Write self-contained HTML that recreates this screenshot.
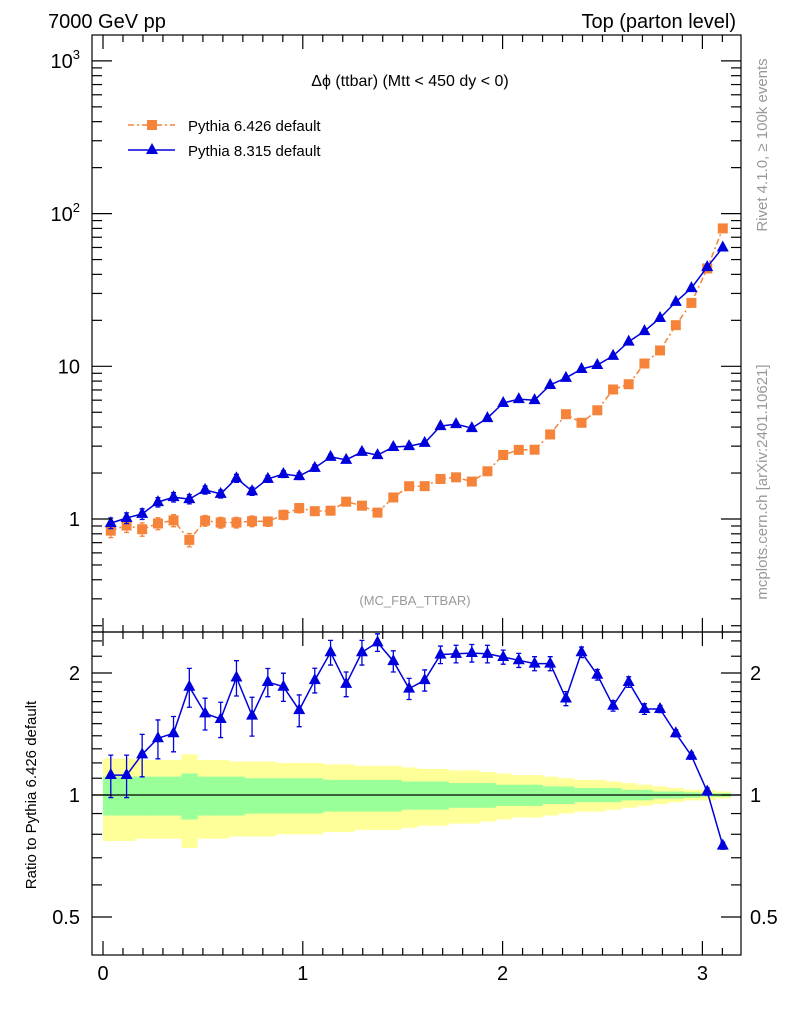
<!DOCTYPE html>
<html><head><meta charset="utf-8"><style>
body{margin:0;background:#fff;}
svg{display:block;font-family:"Liberation Sans",sans-serif;}
</style></head><body>
<svg id="c" width="786" height="1024" viewBox="0 0 786 1024" xmlns="http://www.w3.org/2000/svg">
<text x="48" y="28" font-size="20">7000 GeV pp</text>
<text x="736" y="28" font-size="20" text-anchor="end">Top (parton level)</text>
<text x="410" y="86" font-size="16" text-anchor="middle">Δϕ (ttbar) (Mtt &lt; 450 dy &lt; 0)</text>
<text x="415" y="605" font-size="13" fill="#999" text-anchor="middle">(MC_FBA_TTBAR)</text>
<text transform="translate(767,145) rotate(-90)" font-size="15" fill="#999" text-anchor="middle">Rivet 4.1.0, ≥ 100k events</text>
<text transform="translate(767,482) rotate(-90)" font-size="15" fill="#999" text-anchor="middle">mcplots.cern.ch [arXiv:2401.10621]</text>
<text transform="translate(36,795) rotate(-90)" font-size="15" text-anchor="middle">Ratio to Pythia 6.426 default</text>
<g>
<g>
<line x1="128" y1="125" x2="175" y2="125" stroke="#f5843a" stroke-width="1.5" stroke-dasharray="6,3,2,3"/>
<rect x="147" y="120" width="10" height="10" fill="#f5843a"/>
<text x="188" y="131" font-size="15">Pythia 6.426 default</text></g>
<g>
<line x1="128" y1="150" x2="175" y2="150" stroke="#0000dd" stroke-width="1.5"/>
<polygon points="152,143 158,154 146,154" fill="#0000dd"/>
<text x="188" y="156" font-size="15">Pythia 8.315 default</text></g>
</g>
<g id="main"></g>
<g id="ratio"></g>
<rect x="92" y="35" width="649" height="597" fill="none" stroke="#000" stroke-width="1.2"/>
<rect x="92" y="632" width="649" height="323" fill="none" stroke="#000" stroke-width="1.2"/>
</svg>
<script>
const binCenters=[0.039,0.118,0.196,0.275,0.353,0.432,0.511,0.589,0.668,0.746,0.825,0.903,0.982,1.060,1.139,1.217,1.296,1.374,1.453,1.532,1.610,1.689,1.767,1.846,1.924,2.003,2.081,2.160,2.238,2.317,2.395,2.474,2.553,2.631,2.710,2.788,2.867,2.945,3.024,3.102];
const pythia8=[0.94,1.015,1.08,1.29,1.39,1.35,1.55,1.46,1.85,1.52,1.83,1.97,1.91,2.16,2.55,2.44,2.75,2.62,2.96,3.0,3.15,4.06,4.18,3.94,4.58,5.75,6.1,6.0,7.55,8.4,9.6,10.2,11.7,14.5,17.0,20.7,26.4,32.5,44.6,60];
const ratio8=[1.12,1.12,1.26,1.38,1.42,1.85,1.59,1.54,1.95,1.57,1.90,1.85,1.62,1.92,2.25,1.88,2.25,2.38,2.14,1.83,1.92,2.22,2.23,2.24,2.23,2.19,2.15,2.11,2.11,1.73,2.25,1.98,1.66,1.90,1.63,1.63,1.42,1.25,1.02,0.75];
const ratioErr=[0.12,0.12,0.12,0.11,0.10,0.11,0.09,0.10,0.10,0.11,0.08,0.08,0.09,0.07,0.07,0.07,0.07,0.05,0.06,0.06,0.06,0.05,0.05,0.05,0.05,0.04,0.04,0.04,0.04,0.04,0.03,0.03,0.03,0.03,0.03,0.02,0.02,0.02,0.02,0.02];
const mainErr8=[0.08,0.08,0.08,0.07,0.07,0.07,0.06,0.06,0.06,0.06,0.05,0.05,0.05,0.05,0.04,0.04,0.04,0.04,0.04,0.04,0.03,0.03,0.03,0.03,0.03,0.03,0.02,0.02,0.02,0.02,0.02,0.02,0.02,0.02,0.01,0.01,0.01,0.01,0.01,0.01];
const mainErr6=[0.10,0.10,0.10,0.09,0.09,0.10,0.08,0.08,0.08,0.08,0.07,0.07,0.07,0.06,0.06,0.06,0.05,0.05,0.05,0.05,0.04,0.04,0.04,0.04,0.03,0.03,0.03,0.03,0.03,0.02,0.02,0.02,0.02,0.02,0.02,0.01,0.01,0.01,0.01,0.01];
const yellowBand=[0.23,0.23,0.22,0.22,0.22,0.26,0.22,0.22,0.21,0.21,0.21,0.20,0.20,0.20,0.19,0.19,0.18,0.18,0.18,0.17,0.16,0.16,0.15,0.15,0.14,0.13,0.12,0.12,0.11,0.10,0.09,0.09,0.08,0.07,0.06,0.05,0.04,0.03,0.03,0.02];
const greenBand=[0.11,0.11,0.11,0.11,0.11,0.13,0.11,0.11,0.11,0.10,0.10,0.10,0.10,0.10,0.09,0.09,0.09,0.09,0.09,0.08,0.08,0.08,0.07,0.07,0.07,0.06,0.06,0.06,0.05,0.05,0.04,0.04,0.04,0.03,0.03,0.02,0.02,0.015,0.01,0.01];
const xTickLabels=["0","1","2","3"];
const mainTickLabels=[["1",1],["10",10]];
const ratioTickLabels=[["0.5",0.5],["1",1],["2",2]];

const NS="http://www.w3.org/2000/svg";
const X=v=>103+199.8*v;
const Ym=v=>519-152.7*Math.log10(v);
const Yr=v=>795-122*Math.log2(v);
const binW=0.0785;
function mk(tag,attrs,parent){const e=document.createElementNS(NS,tag);for(const k in attrs)e.setAttribute(k,attrs[k]);parent.appendChild(e);return e;}
const main=document.getElementById('main'), ratio=document.getElementById('ratio');
const pythia6=pythia8.map((v,i)=>v/ratio8[i]);

// bands
binCenters.forEach((c,i)=>{
  let r=mk('rect',{x:X(c-binW/2),y:Yr(1+yellowBand[i]),width:X(c+binW/2)-X(c-binW/2)+0.5,height:Yr(1-yellowBand[i])-Yr(1+yellowBand[i]),fill:'#ffff99'},ratio);
  
  
});
binCenters.forEach((c,i)=>{
  let r=mk('rect',{x:X(c-binW/2),y:Yr(1+greenBand[i]),width:X(c+binW/2)-X(c-binW/2)+0.5,height:Yr(1-greenBand[i])-Yr(1+greenBand[i]),fill:'#99ff99'},ratio);
  
  
});
let ref=mk('line',{x1:92,x2:741,y1:Yr(1),y2:Yr(1),stroke:'#000','stroke-width':1.2},ratio);



// clip for ratio
const defs=mk('defs',{},document.getElementById('c'));
const cp=mk('clipPath',{id:'rclip'},defs);mk('rect',{x:92,y:632,width:649,height:323},cp);

function series(parent,vals,errs,Yf,color,dash,marker,name,clip){
  const g=mk('g',clip?{'clip-path':'url(#rclip)'}:{},parent);
  
  
  const pts=vals.map((v,i)=>X(binCenters[i]).toFixed(1)+','+Yf(v).toFixed(1)).join(' ');
  const pl=mk('polyline',{points:pts,fill:'none',stroke:color,'stroke-width':1.5},g);
  if(dash)pl.setAttribute('stroke-dasharray',dash);
  
  
  vals.forEach((v,i)=>{
    const x=X(binCenters[i]),y1=Yf(v*(1+errs[i])),y2=Yf(v*(1-errs[i])),y=Yf(v);
    const eb=mk('path',{d:`M${x},${y1}V${y2}M${x-2.5},${y1}h5M${x-2.5},${y2}h5`,stroke:color,'stroke-width':1.3,fill:'none'},g);
    
    
    let m;
    if(marker==='sq') m=mk('rect',{x:x-5,y:y-5,width:10,height:10,fill:color},g);
    else m=mk('polygon',{points:`${x},${y-7} ${x+6},${y+4} ${x-6},${y+4}`,fill:color},g);
    
    
  });
}
series(main,pythia6,mainErr6,Ym,'#f5843a','6,3,2,3','sq','pythia6-series',false);
series(main,pythia8,mainErr8,Ym,'#0000dd',null,'tri','pythia8-series',false);
series(ratio,ratio8,ratioErr,Yr,'#0000dd',null,'tri','pythia8-ratio-series',true);

// axes ticks
const ax=mk('g',{stroke:'#000','stroke-width':1.2},document.getElementById('c'));


const tx=mk('g',{'font-size':20,'text-anchor':'middle'},document.getElementById('c'));


for(let k=0;k<=31;k++){const v=k/10;const x=X(v);const maj=k%10===0;const L=maj?14:7;
  mk('line',{x1:x,x2:x,y1:955,y2:955-L},ax);mk('line',{x1:x,x2:x,y1:632,y2:632+L},ax);
  mk('line',{x1:x,x2:x,y1:632,y2:632-L},ax);mk('line',{x1:x,x2:x,y1:35,y2:35+L},ax);}
xTickLabels.forEach(s=>{const t=mk('text',{x:X(+s),y:980},tx);t.textContent=s;});
// main log ticks
for(let d=-1;d<=3;d++){for(let m=1;m<=9;m++){const v=m*Math.pow(10,d);const y=Ym(v);if(y<35||y>632)continue;const L=m===1?20:10;
  mk('line',{x1:92,x2:92+L,y1:y,y2:y},ax);mk('line',{x1:741,x2:741-L,y1:y,y2:y},ax);}}
mainTickLabels.forEach(([s,v])=>{const t=mk('text',{x:80,y:Ym(v)+7,'text-anchor':'end'},tx);t.textContent=s;});
[[2,214],[3,61]].forEach(([e,y])=>{const t=mk('text',{x:80,y:y+7,'text-anchor':'end'},tx);t.textContent='10';const s=mk('tspan',{dy:-9,'font-size':13},t);s.textContent=e;});
// ratio ticks
[0.5,0.6,0.7,0.8,0.9,1,1.1,1.2,1.3,1.4,1.5,1.6,1.7,1.8,1.9,2,2.2,2.4].forEach(v=>{const y=Yr(v);const L=(v===0.5||v===1||v===2)?20:10;
  mk('line',{x1:92,x2:92+L,y1:y,y2:y},ax);mk('line',{x1:741,x2:741-L,y1:y,y2:y},ax);});
ratioTickLabels.forEach(([s,v])=>{const t=mk('text',{x:80,y:Yr(v)+7,'text-anchor':'end'},tx);t.textContent=s;
  const t2=mk('text',{x:750,y:Yr(v)+7,'text-anchor':'start'},tx);t2.textContent=s;});
</script>
</body></html>
